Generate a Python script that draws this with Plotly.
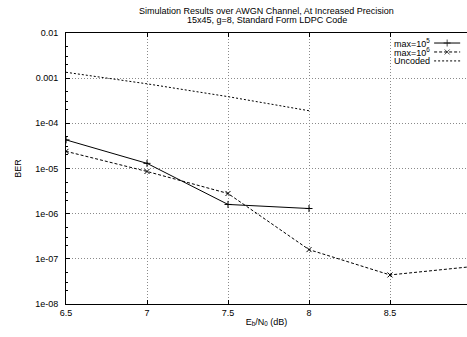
import plotly.graph_objects as go

# Eb/N0 (dB) and bit error rates
ebn0_1e5 = [6.5, 7.0, 7.5, 8.0]
ber_1e5 = [4.3e-5, 1.3e-5, 1.6e-6, 1.3e-6]

ebn0_1e6 = [6.5, 7.0, 7.5, 8.0, 8.5, 9.0]
ber_1e6 = [2.4e-5, 8.6e-6, 2.8e-6, 1.6e-7, 4.4e-8, 6.7e-8]

ebn0_unc = [6.5, 7.0, 7.5, 8.0]
ber_unc = [1.35e-3, 7.5e-4, 3.9e-4, 1.9e-4]

x_ticks = [6.5, 7, 7.5, 8, 8.5]
x_tick_text = ["6.5", "7", "7.5", "8", "8.5"]
y_ticks = [1e-8, 1e-7, 1e-6, 1e-5, 1e-4, 1e-3, 1e-2]
y_tick_text = ["1e-08", "1e-07", "1e-06", "1e-05", "1e-04", "0.001", "0.01"]
y_minor = [m * 10.0 ** e for e in range(-8, -2) for m in (2, 3, 5)]

legend_names = ["max=10<sup>5</sup>", "max=10<sup>6</sup>", "Uncoded"]
title_lines = ["Simulation Results over AWGN Channel, At Increased Precision",
               "15x45, g=8, Standard Form LDPC Code"]

FONT = "Liberation Sans, Arial, Helvetica, sans-serif"
W, H = 467, 337
L, R, T, B = 66, 0, 33, 33
PLOT_H = H - T - B

styles = [
    dict(dash="solid", symbol="cross-thin"),
    dict(dash="3px,2px", symbol="x-thin"),
    dict(dash="2px,2px", symbol=None),
]

fig = go.Figure()
series = [(ebn0_1e5, ber_1e5), (ebn0_1e6, ber_1e6), (ebn0_unc, ber_unc)]
for (xs, ys), st, name in zip(series, styles, legend_names):
    mode = "lines+markers" if st["symbol"] else "lines"
    fig.add_trace(go.Scatter(
        x=xs, y=ys, mode=mode, name=name, showlegend=False,
        line=dict(color="black", width=1, dash=st["dash"]),
        marker=dict(symbol=st["symbol"] or "circle", size=5,
                    line=dict(color="black", width=1), color="black"),
    ))

# key in the upper right: label text followed by a line sample
row_y = [0.963, 0.930, 0.897]
for name, st, yy in zip(legend_names, styles, row_y):
    fig.add_annotation(xref="x2", yref="y2", x=0.913, y=yy,
                       text=name, showarrow=False, xanchor="right", yanchor="middle",
                       font=dict(family=FONT, size=9, color="black"))
    mode = "lines+markers" if st["symbol"] else "lines"
    fig.add_trace(go.Scatter(
        x=[0.918, 0.9505, 0.983], y=[yy, yy, yy], xaxis="x2", yaxis="y2",
        mode=mode, showlegend=False, hoverinfo="skip",
        line=dict(color="black", width=1, dash=st["dash"]),
        marker=dict(symbol=st["symbol"] or "circle", size=[0, 5, 0],
                    line=dict(color="black", width=1), color="black"),
    ))

# two-line title centred over the plot area
for line, ypx in zip(title_lines, [11, 20]):
    fig.add_annotation(xref="paper", yref="paper", x=0.5, y=(H - B - ypx) / PLOT_H,
                       text=line, showarrow=False, xanchor="center", yanchor="middle",
                       font=dict(family=FONT, size=9, color="black"))

axis_font = dict(family=FONT, size=9, color="black")
grid = dict(showgrid=True, gridcolor="#8a8a8a", griddash="1px,2px", gridwidth=1)
fig.update_layout(
    width=W, height=H,
    margin=dict(l=L, r=R, t=T, b=B),
    paper_bgcolor="white", plot_bgcolor="white",
    font=axis_font,
    xaxis=dict(
        range=[6.5, 6.5 + 0.5 * (W - L - R) / 81.0],
        tickmode="array", tickvals=x_ticks, ticktext=x_tick_text,
        ticks="inside", ticklen=4, tickcolor="black",
        showline=True, linecolor="black", linewidth=1, mirror="allticks",
        zeroline=False,
        title=dict(text="E<sub>b</sub>/N<sub>0</sub> (dB)", font=axis_font, standoff=1),
        tickfont=axis_font,
        **grid,
    ),
    yaxis=dict(
        type="log", range=[-8, -2],
        tickmode="array", tickvals=y_ticks, ticktext=y_tick_text,
        ticks="inside", ticklen=4, tickcolor="black",
        minor=dict(tickmode="array", tickvals=y_minor, ticks="inside", ticklen=2,
                   tickcolor="black", showgrid=False),
        showline=True, linecolor="black", linewidth=1, mirror=False,
        zeroline=False, ticklabelstandoff=5,
        title=dict(text="BER", font=axis_font, standoff=12),
        tickfont=axis_font,
        **grid,
    ),
    xaxis2=dict(overlaying="x", range=[0, 1], visible=False, fixedrange=True),
    yaxis2=dict(overlaying="y", range=[0, 1], visible=False, fixedrange=True),
)

fig.write_html("out.html")
